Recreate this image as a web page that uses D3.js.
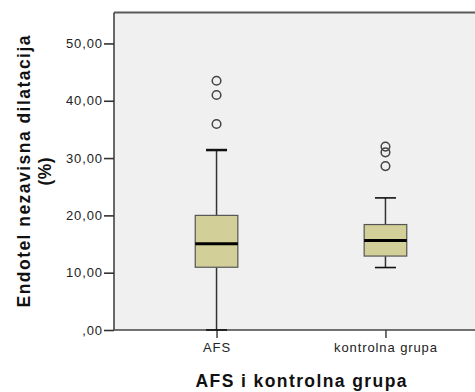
<!DOCTYPE html>
<html><head><meta charset="utf-8">
<script src="https://cdn.jsdelivr.net/npm/d3@7/dist/d3.min.js"></script>
<style>body{margin:0;background:#fff}svg{display:block}</style>
</head><body>
<script>
const categories = ["AFS", "kontrolna grupa"];
const whiskerLow = [0.0, 10.9];
const q1 = [10.95, 12.9];
const median = [15.05, 15.6];
const q3 = [20.0, 18.4];
const whiskerHigh = [31.4, 23.05];
const outliers = [[43.5, 41.0, 35.95], [32.0, 31.0, 28.6]];
const yTicks = [0, 10, 20, 30, 40, 50];
const yTickLabels = [",00", "10,00", "20,00", "30,00", "40,00", "50,00"];
const yMax = 55.4;
const xTitle = "AFS i kontrolna grupa";
const yTitle = ["Endotel nezavisna dilatacija", "(%)"];

const W = 475, H = 392;
const L = 114, R = 488, T = 12.5, B = 330;
const svg = d3.select("body").append("svg").attr("width", W).attr("height", H);

const y = d3.scaleLinear().domain([0, yMax]).range([B, T]);
const x = d3.scalePoint().domain(categories).range([L, R]).padding(0.607);

svg.append("rect").attr("x", L).attr("y", T).attr("width", R - L).attr("height", B - T).attr("fill", "#f0f0f0");
svg.append("line").attr("x1", L).attr("x2", R).attr("y1", T).attr("y2", T).attr("stroke", "#5a5a5a").attr("stroke-width", 2);
svg.append("line").attr("x1", L).attr("x2", L).attr("y1", T).attr("y2", B).attr("stroke", "#444").attr("stroke-width", 1.6);

const font = "'Liberation Sans', Arial, sans-serif";

const yAxis = d3.axisLeft(y).tickValues(yTicks).tickSize(10).tickFormat((d, i) => yTickLabels[i]);
const gy = svg.append("g").attr("transform", `translate(${L},0)`).call(yAxis);
gy.select(".domain").remove();
gy.selectAll(".tick line").attr("stroke", "#333").attr("stroke-width", 1.6);
gy.selectAll(".tick text").attr("x", -11).attr("font-family", font).attr("font-size", 13).attr("letter-spacing", 0.9).attr("fill", "#222");

const xAxis = d3.axisBottom(x).tickSize(8);
const gx = svg.append("g").attr("transform", `translate(0,${B})`).call(xAxis);
gx.select(".domain").remove();
gx.selectAll(".tick line").attr("stroke", "#333").attr("stroke-width", 1.4);
gx.selectAll(".tick text").attr("y", 13).attr("font-family", font).attr("font-size", 13).attr("letter-spacing", 0.9).attr("fill", "#222");
svg.append("line").attr("x1", L).attr("x2", R).attr("y1", B).attr("y2", B).attr("stroke", "#444").attr("stroke-width", 1.6);

const boxW = 42.6, capW = 21;
categories.forEach((c, i) => {
  const cx = x(c);
  const g = svg.append("g");
  g.append("line").attr("x1", cx).attr("x2", cx).attr("y1", y(whiskerHigh[i])).attr("y2", y(q3[i])).attr("stroke", "#333").attr("stroke-width", 1.5);
  g.append("line").attr("x1", cx).attr("x2", cx).attr("y1", y(q1[i])).attr("y2", y(whiskerLow[i])).attr("stroke", "#333").attr("stroke-width", 1.5);
  g.append("line").attr("x1", cx - capW / 2).attr("x2", cx + capW / 2).attr("y1", y(whiskerHigh[i])).attr("y2", y(whiskerHigh[i])).attr("stroke", "#111").attr("stroke-width", i === 0 ? 2.5 : 1.6);
  g.append("line").attr("x1", cx - capW / 2).attr("x2", cx + capW / 2).attr("y1", y(whiskerLow[i])).attr("y2", y(whiskerLow[i])).attr("stroke", "#111").attr("stroke-width", 1.6);
  g.append("rect").attr("x", cx - boxW / 2).attr("width", boxW).attr("y", y(q3[i])).attr("height", y(q1[i]) - y(q3[i]))
    .attr("fill", "#d3cf98").attr("stroke", "#555").attr("stroke-width", 1.2);
  g.append("line").attr("x1", cx - boxW / 2).attr("x2", cx + boxW / 2).attr("y1", y(median[i])).attr("y2", y(median[i])).attr("stroke", "#000").attr("stroke-width", 3);
  outliers[i].forEach(v => {
    g.append("circle").attr("cx", cx).attr("cy", y(v)).attr("r", 4.3).attr("fill", "none").attr("stroke", "#444").attr("stroke-width", 1.5);
  });
});

svg.append("text").attr("x", (L + R) / 2).attr("y", 387).attr("text-anchor", "middle")
  .attr("font-family", font).attr("font-weight", "bold").attr("font-size", 17.5).attr("fill", "#111")
  .attr("textLength", 211).attr("lengthAdjust", "spacing").text(xTitle);
const cy = 171.5;
svg.append("text").attr("transform", `translate(30,${cy}) rotate(-90)`).attr("text-anchor", "middle")
  .attr("font-family", font).attr("font-weight", "bold").attr("font-size", 17.5).attr("fill", "#111")
  .attr("textLength", 272).attr("lengthAdjust", "spacing").text(yTitle[0]);
svg.append("text").attr("transform", `translate(51,${cy}) rotate(-90)`).attr("text-anchor", "middle")
  .attr("font-family", font).attr("font-weight", "bold").attr("font-size", 17.5).attr("fill", "#111")
  .attr("textLength", 28).attr("lengthAdjust", "spacing").text(yTitle[1]);
</script>
</body></html>
